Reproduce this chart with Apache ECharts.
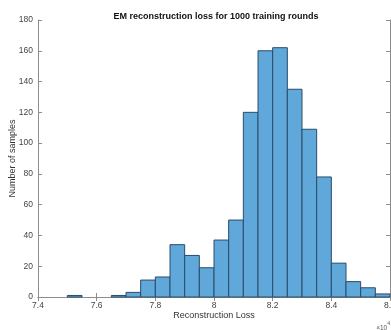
<!DOCTYPE html>
<html><head><meta charset="utf-8">
<script src="https://cdn.jsdelivr.net/npm/echarts@6/dist/echarts.min.js"></script>
<style>html,body{margin:0;padding:0;background:#fff}#c{width:391px;height:330px}</style>
</head><body><div id="c"></div>
<script>
// Histogram data (x in units of 10^4)
const binStarts = [7.50,7.55,7.60,7.65,7.70,7.75,7.80,7.85,7.90,7.95,8.00,8.05,8.10,8.15,8.20,8.25,8.30,8.35,8.40,8.45,8.50,8.55];
const counts    = [1,   0,   0,   1,   3,   11,  13,  34,  27,  19,  37,  50,  120, 160, 162, 135, 109, 78,  22,  10,  6,   2];
const binWidth = 0.05;
const xTicks = [7.4,7.6,7.8,8,8.2,8.4,8.6];
const yTicks = [0,20,40,60,80,100,120,140,160,180];

const data = binStarts.map((s,i)=>[s, s+binWidth, counts[i]]).filter(d=>d[2]>0);
const font = 'Liberation Sans, Arial, sans-serif';
const chart = echarts.init(document.getElementById('c'), null, {renderer:'canvas'});
const axisLine = {show:true, lineStyle:{color:'#8c8c8c', width:1}};
const tick = {show:true, inside:true, length:4, lineStyle:{color:'#8c8c8c'}};
chart.setOption({
  animation:false,
  title:{text:'EM reconstruction loss for 1000 training rounds', left:211, top:7, textAlign:'center',
    textStyle:{fontFamily:font, fontSize:9, fontWeight:'bold', color:'#111'}},
  grid:{left:38, right:1, top:20, bottom:33, containLabel:false, outerBoundsMode:'none'},
  xAxis:[{type:'value', min:7.4, max:8.6, interval:0.2, axisLine, axisTick:tick,
     splitLine:{show:false},
     axisLabel:{fontFamily:font, fontSize:8.5, color:'#444', margin:4, hideOverlap:false,
       formatter:v=>{const r=Math.round(v*10)/10; return xTicks.includes(r)?String(r):'';}},
     name:'Reconstruction Loss', nameLocation:'middle', nameGap:14, nameMoveOverlap:false,
     nameTextStyle:{fontFamily:font, fontSize:9, color:'#333'}},
    {type:'value', position:'top', min:7.4, max:8.6, interval:0.2, axisLine, axisTick:tick,
     axisLabel:{show:false}, splitLine:{show:false}}],
  yAxis:[{type:'value', min:0, max:180, interval:20, axisLine, axisTick:tick, splitLine:{show:false},
     axisLabel:{fontFamily:font, fontSize:8.5, color:'#444', margin:5},
     name:'Number of samples', nameLocation:'middle', nameGap:21, nameMoveOverlap:false,
     nameTextStyle:{fontFamily:font, fontSize:9, color:'#333'}},
    {type:'value', position:'right', min:0, max:180, interval:20, axisLine, axisTick:tick,
     axisLabel:{show:false}, splitLine:{show:false}}],
  graphic:[{type:'text', right:1, top:321, style:{
    text:'{a|×10}{b|4}', rich:{a:{fontFamily:font,fontSize:6.5,fill:'#555',padding:[4,0,0,0]},b:{fontFamily:font,fontSize:5,fill:'#555',verticalAlign:'top',padding:[0,0,4,0]}}}}],
  series:[{type:'custom', data,
    renderItem:(params, api)=>{
      const p0 = api.coord([api.value(0), 0]);
      const p1 = api.coord([api.value(1), api.value(2)]);
      return {type:'rect', shape:{x:p0[0], y:p1[1], width:p1[0]-p0[0], height:p0[1]-p1[1]},
        style:{fill:'#60a7da', stroke:'#2a4c68', lineWidth:1}};
    }, encode:{x:[0,1], y:2}}]
});
</script></body></html>
